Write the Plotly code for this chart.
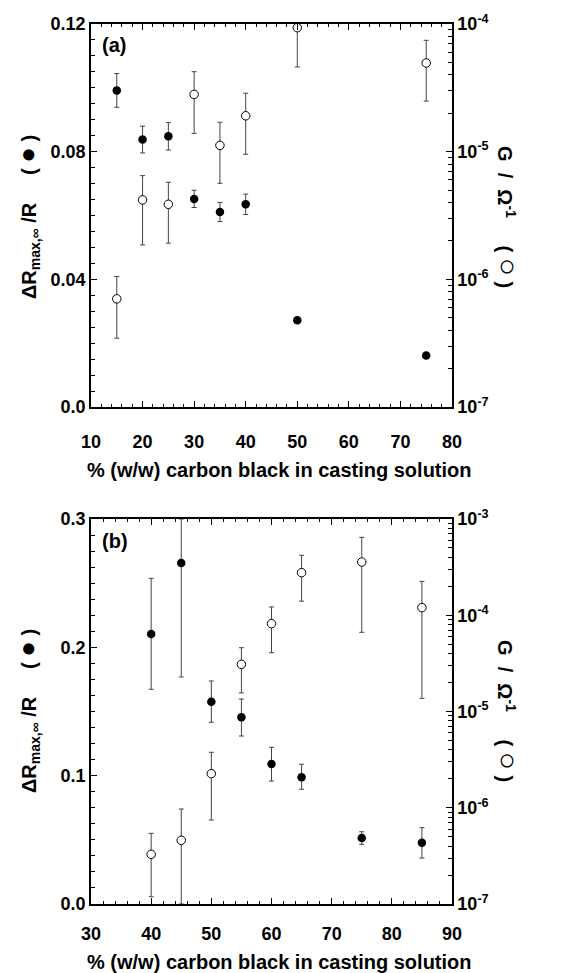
import plotly.graph_objects as go

# ---------------- data (panel a) ----------------
xa_fill = [15, 20, 25, 30, 35, 40, 50, 75]
ya_fill = [0.0992, 0.0838, 0.0848, 0.0652, 0.0611, 0.0635, 0.0272, 0.0161]
ea_fill = [0.0053, 0.0042, 0.0043, 0.0027, 0.0030, 0.0032, 0.0, 0.0]

xa_open = [15, 20, 25, 30, 35, 40, 50, 75]
ya_open = [7.03e-7, 4.19e-6, 3.87e-6, 2.81e-5, 1.12e-5, 1.91e-5, 9.36e-5, 4.95e-5]
ya_open_hi = [1.05e-6, 6.49e-6, 5.76e-6, 4.23e-5, 1.70e-5, 2.87e-5, 1.0e-4, 7.45e-5]
ya_open_lo = [3.46e-7, 1.86e-6, 1.92e-6, 1.39e-5, 5.65e-6, 9.55e-6, 4.61e-5, 2.49e-5]

# ---------------- data (panel b) ----------------
xb_fill = [40, 45, 50, 55, 60, 65, 75, 85]
yb_fill = [0.2104, 0.2657, 0.1576, 0.1455, 0.1091, 0.0987, 0.0514, 0.0478]
yb_fill_hi = [0.2538, 0.3000, 0.1738, 0.1597, 0.1221, 0.1089, 0.0563, 0.0595]
yb_fill_lo = [0.1673, 0.1769, 0.1416, 0.1309, 0.0958, 0.0894, 0.0465, 0.0358]

xb_open = [40, 45, 50, 55, 60, 65, 75, 85]
yb_open = [3.28e-7, 4.59e-7, 2.26e-6, 3.09e-5, 8.17e-5, 2.77e-4, 3.57e-4, 1.20e-4]
yb_open_hi = [5.42e-7, 9.7e-7, 3.77e-6, 4.60e-5, 1.22e-4, 4.20e-4, 6.45e-4, 2.25e-4]
yb_open_lo = [1.19e-7, 1.0e-7, 7.46e-7, 1.56e-5, 4.08e-5, 1.40e-4, 6.65e-5, 1.37e-5]

xa_ticks = [10, 20, 30, 40, 50, 60, 70, 80]
xb_ticks = [30, 40, 50, 60, 70, 80, 90]
ya_ticks = [0.0, 0.04, 0.08, 0.12]
ya_ticktext = ["0.0", "0.04", "0.08", "0.12"]
yb_ticks = [0.0, 0.1, 0.2, 0.3]
yb_ticktext = ["0.0", "0.1", "0.2", "0.3"]
ga_exps = [-7, -6, -5, -4]
gb_exps = [-7, -6, -5, -4, -3]

x_title = "% (w/w) carbon black in casting solution"

FONT = "Liberation Sans"

def minor_log(exps):
    vals = []
    for e in exps[:-1]:
        for m in range(2, 10):
            vals.append(m * 10.0 ** e)
    return vals

fig = go.Figure()

ERR_COLOR = "#444444"

def add_fill(x, y, plus, minus, xax, yax):
    fig.add_trace(go.Scatter(
        x=x, y=y, mode="markers", xaxis=xax, yaxis=yax,
        marker=dict(symbol="circle", size=8.5, color="black"),
        error_y=dict(type="data", symmetric=False,
                     array=plus, arrayminus=minus,
                     color=ERR_COLOR, thickness=1, width=2.5),
        cliponaxis=False, showlegend=False))

def add_open(x, y, hi, lo, xax, yax):
    plus = [h - v for h, v in zip(hi, y)]
    minus = [v - l for l, v in zip(lo, y)]
    fig.add_trace(go.Scatter(
        x=x, y=y, mode="markers", xaxis=xax, yaxis=yax,
        marker=dict(symbol="circle", size=8.5, color="white",
                    line=dict(color="black", width=1)),
        error_y=dict(type="data", symmetric=False,
                     array=plus, arrayminus=minus,
                     color=ERR_COLOR, thickness=1, width=2.5),
        cliponaxis=False, showlegend=False))

# panel a
add_open(xa_open, ya_open, ya_open_hi, ya_open_lo, "x", "y2")
add_fill(xa_fill, ya_fill, ea_fill, ea_fill, "x", "y")
# panel b
add_open(xb_open, yb_open, yb_open_hi, yb_open_lo, "x2", "y4")
add_fill(xb_fill, yb_fill,
         [h - v for h, v in zip(yb_fill_hi, yb_fill)],
         [v - l for l, v in zip(yb_fill_lo, yb_fill)], "x2", "y3")

tickfont = dict(family=FONT, size=18, color="black", weight="bold")
axis_common = dict(showline=True, linecolor="black", linewidth=1.5,
                   ticks="inside", ticklen=6, tickwidth=1.2, tickcolor="black",
                   showgrid=False, zeroline=False, tickfont=tickfont,
                   automargin=False)

# page body has an 8px offset; figure is sized so that it ends at the window edge
OFF = 8
FIG_W, FIG_H = 564 - OFF, 973 - OFF
MARGIN = dict(l=91 - OFF, r=112, t=24 - OFF, b=69)
dom_a = [0.5648, 1.0]
dom_b = [0.0, 0.4375]

fig.update_layout(
    width=FIG_W, height=FIG_H, margin=MARGIN,
    paper_bgcolor="white", plot_bgcolor="white",
    xaxis=dict(domain=[0, 1], range=[10, 80], anchor="y", mirror="ticks",
               tickmode="array", tickvals=xa_ticks, ticklabelstandoff=18,
               minor=dict(dtick=2, ticks="inside", ticklen=3, tickwidth=1, tickcolor="black"),
               **axis_common),
    yaxis=dict(domain=dom_a, range=[0, 0.12], anchor="x",
               tickmode="array", tickvals=ya_ticks, ticktext=ya_ticktext,
               minor=dict(dtick=0.005, ticks="inside", ticklen=4, tickwidth=1, tickcolor="black"),
               **axis_common),
    yaxis2=dict(domain=dom_a, type="log", range=[-7, -4], overlaying="y",
                side="right", anchor="x",
                tickmode="array", tickvals=[10.0 ** e for e in ga_exps],
                ticktext=["10<sup>%d</sup>" % e for e in ga_exps],
                minor=dict(tickmode="array", tickvals=minor_log(ga_exps), ticks="inside",
                           ticklen=4, tickwidth=1, tickcolor="black"),
                **axis_common),
    xaxis2=dict(domain=[0, 1], range=[30, 90], anchor="y3", mirror="ticks",
                tickmode="array", tickvals=xb_ticks, ticklabelstandoff=13,
                minor=dict(dtick=2, ticks="inside", ticklen=3, tickwidth=1, tickcolor="black"),
                **axis_common),
    yaxis3=dict(domain=dom_b, range=[0, 0.3], anchor="x2",
                tickmode="array", tickvals=yb_ticks, ticktext=yb_ticktext,
                minor=dict(dtick=0.0125, ticks="inside", ticklen=4, tickwidth=1, tickcolor="black"),
                **axis_common),
    yaxis4=dict(domain=dom_b, type="log", range=[-7, -3], overlaying="y3",
                side="right", anchor="x2",
                tickmode="array", tickvals=[10.0 ** e for e in gb_exps],
                ticktext=["10<sup>%d</sup>" % e for e in gb_exps],
                minor=dict(tickmode="array", tickvals=minor_log(gb_exps), ticks="inside",
                           ticklen=4, tickwidth=1, tickcolor="black"),
                **axis_common),
)

ann_font = dict(family=FONT, size=20, color="black", weight="bold")
NB = "\u00a0"
left_title = ("ΔR<sub>max,∞</sub>" + NB + "/R" + NB * 5 + "(" + NB +
              "<span style='font-size:26px'>●</span>" + NB + ")")
right_title = ("G" + NB * 2 + "/" + NB * 2 + "Ω<sup>-1</sup>" + NB * 5 + "(" + NB +
               "<span style='font-size:30px;font-weight:normal'>○</span>" + NB + ")")

PLOT_H = FIG_H - MARGIN["t"] - MARGIN["b"]
PLOT_W = FIG_W - MARGIN["l"] - MARGIN["r"]
def py(pix):  # window pixel y -> paper y
    return 1 - (pix - OFF - MARGIN["t"]) / PLOT_H
def px(pix):  # window pixel x -> paper x
    return (pix - OFF - MARGIN["l"]) / PLOT_W

anns = []
for (yc, xt_y, lab, lab_y) in [(217, 470, "(a)", 45), (711, 962, "(b)", 541)]:
    anns.append(dict(text=left_title, textangle=-90, x=px(27), y=py(yc),
                     xref="paper", yref="paper", showarrow=False, font=ann_font,
                     xanchor="center", yanchor="middle"))
    anns.append(dict(text=right_title, textangle=90, x=px(509), y=py(yc),
                     xref="paper", yref="paper", showarrow=False, font=ann_font,
                     xanchor="center", yanchor="middle"))
    anns.append(dict(text=x_title, x=px(279), y=py(xt_y),
                     xref="paper", yref="paper", showarrow=False, font=ann_font,
                     xanchor="center", yanchor="middle"))
    anns.append(dict(text=lab, x=px(100), y=py(lab_y),
                     xref="paper", yref="paper", showarrow=False, font=ann_font,
                     xanchor="left", yanchor="middle"))
fig.update_layout(annotations=anns)

fig.write_html("out.html")
